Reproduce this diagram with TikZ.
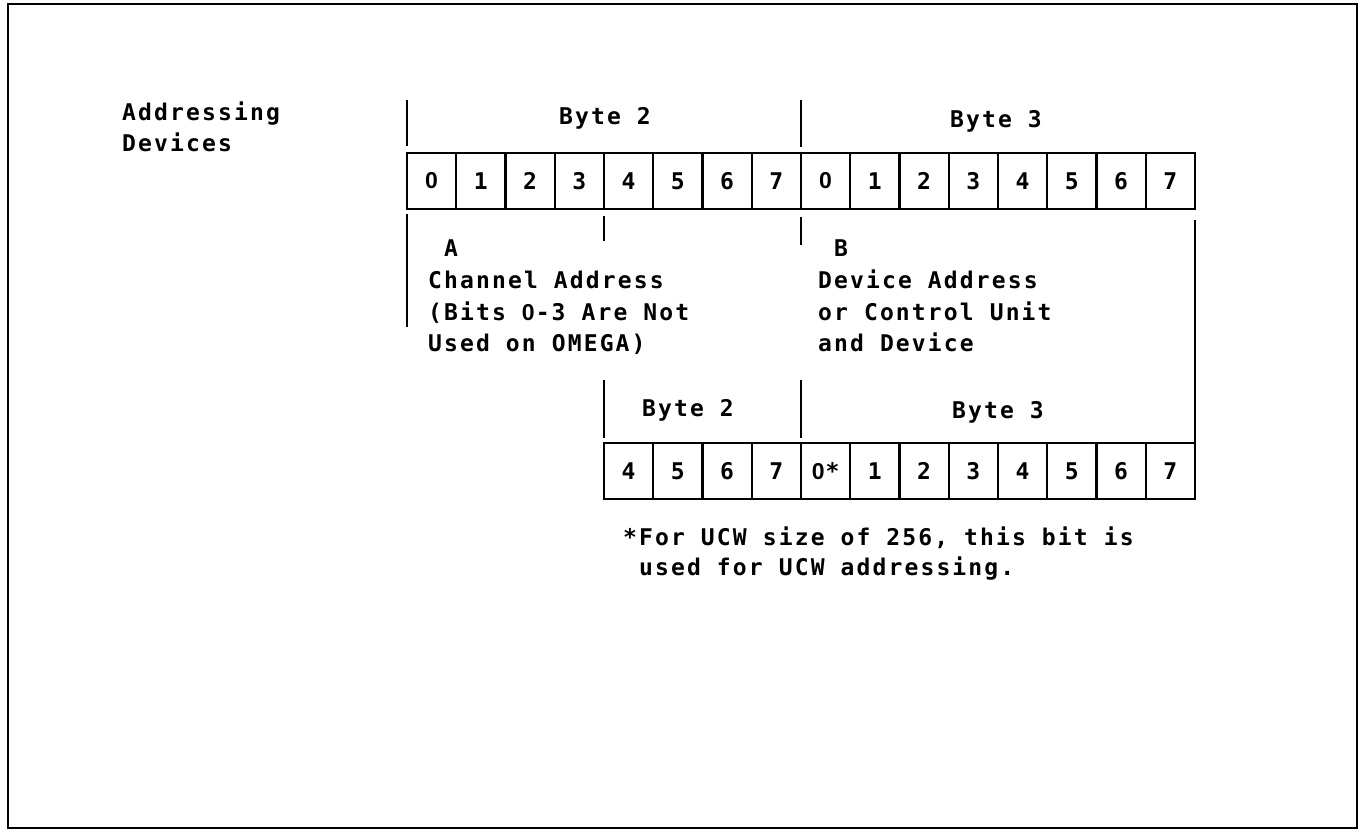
\documentclass[tikz,border=0pt]{standalone}
\usepackage{fontspec}
\newfontfamily\ibm[LetterSpace=9.3]{DejaVu Sans Mono Bold}
\newfontfamily\ibmzero{Liberation Sans Bold}
\newcommand\zr{{\ibmzero 0\hspace{1pt}}}
\begin{document}
\begin{tikzpicture}[x=1pt,y=-1pt,
  txt/.style={font=\ibm\fontsize{23}{26}\selectfont, inner sep=0pt, anchor=base west},
  lbl/.style={font=\ibm\fontsize{23}{26}\selectfont, inner sep=0pt},
  cell/.style={draw, line width=2.2pt, minimum width=49.25pt, minimum height=56pt, inner sep=0pt,
     font=\ibm\fontsize{23}{26}\selectfont},
  brk/.style={line width=2pt},
  frame/.style={line width=2.5pt}]
\useasboundingbox (0,0) rectangle (1367,831);
\draw[frame] (8,4) rectangle (1357,828);

% top register
\foreach \i/\d in {0/\zr,1/1,2/2,3/3,4/4,5/5,6/6,7/7,8/\zr,9/1,10/2,11/3,12/4,13/5,14/6,15/7}
  \node[cell] (t\i) at ({407+49.25*\i+24.625},181) {\d};

% bottom register
\foreach \i/\d in {4/4,5/5,6/6,7/7,8/\zr*,9/1,10/2,11/3,12/4,13/5,14/6,15/7}
  \node[cell] (b\i) at ({407+49.25*\i+24.625},471) {\d};

% coordinates for brackets
\coordinate (ta) at (407,100);  \coordinate (tb) at (407,146);
\coordinate (tc) at (801,100);  \coordinate (td) at (801,147);
\coordinate (la) at (407,214);  \coordinate (lb) at (407,327);
\coordinate (ma) at (604,216);  \coordinate (mb) at (604,241);
\coordinate (na) at (801,217);  \coordinate (nb) at (801,245);
\coordinate (ra) at (1195,220); \coordinate (rb) at (1195,443);
\coordinate (pa) at (604,380);  \coordinate (pb) at (604,438);
\coordinate (qa) at (801,380);  \coordinate (qb) at (801,438);

\draw[brk] (ta) -- (tb);
\draw[brk] (tc) -- (td);
\draw[brk] (la) -- (lb);
\draw[brk] (ma) -- (mb);
\draw[brk] (na) -- (nb);
\draw[brk] (ra) -- (rb);
\draw[brk] (pa) -- (pb);
\draw[brk] (qa) -- (qb);

% byte labels
\node[lbl] (tby2) at (605,118) {Byte 2};
\node[lbl] (tby3) at (996,121) {Byte 3};
\node[lbl] (bby2) at (688,410) {Byte 2};
\node[lbl] (bby3) at (998,412) {Byte 3};

% left label
\node[txt] (ad1) at (122,120) {Addressing};
\node[txt] (ad2) at (122,151) {Devices};

% A block
\node[txt] (a0) at (444,256) {A};
\node[txt] (a1) at (428,288) {Channel Address};
\node[txt] (a2) at (428,320) {(Bits \zr-3 Are Not};
\node[txt] (a3) at (428,351) {Used on OMEGA)};

% B block
\node[txt] (b0) at (834,256) {B};
\node[txt] (bl1) at (818,288) {Device Address};
\node[txt] (bl2) at (818,320) {or Control Unit};
\node[txt] (bl3) at (818,351) {and Device};

% footnote
\node[txt] (f1) at (623,545) {*For UCW size of 256, this bit is};
\node[txt] (f2) at (639,575) {used for UCW addressing.};
\end{tikzpicture}
\end{document}
